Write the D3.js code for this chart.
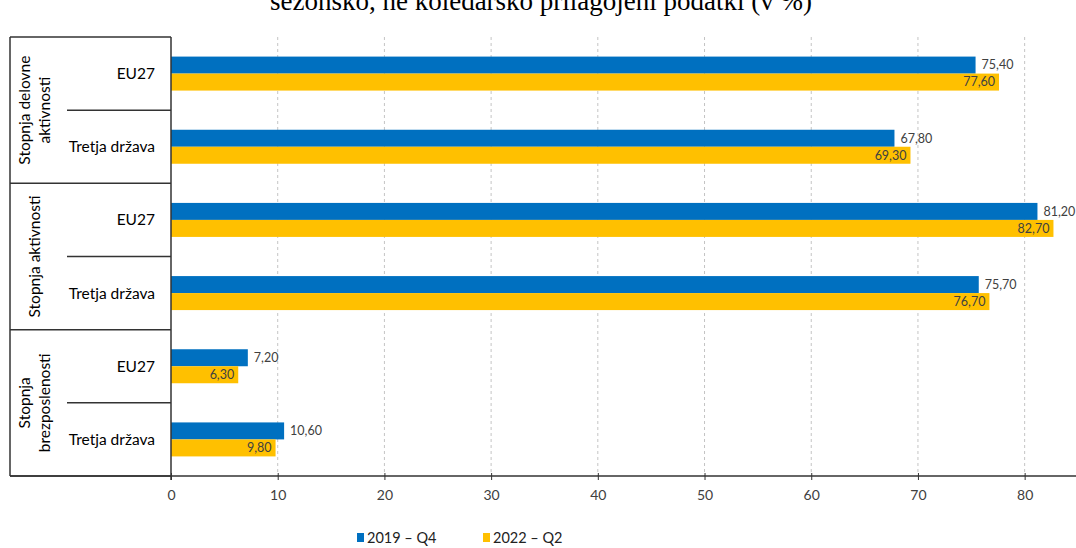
<!DOCTYPE html>
<html>
<head>
<meta charset="utf-8">
<script src="https://cdn.jsdelivr.net/npm/d3@7"></script>
<style>
  html, body { margin: 0; padding: 0; background: #fff; }
  svg { display: block; }
</style>
</head>
<body>
<svg id="chart" width="1076" height="548"></svg>
<script>
// Indicator groups (rotated labels on the left) and the rows inside each
const groups = [
  ["Stopnja delovne", "aktivnosti"],
  ["Stopnja aktivnosti"],
  ["Stopnja", "brezposlenosti"]
];
const rowLabels = ["EU27", "Tretja država"];
const rowIds = ["g1-eu", "g1-tr", "g2-eu", "g2-tr", "g3-eu", "g3-tr"];

// Values per row, one array per period
const series2019Q4 = [75.4, 67.8, 81.2, 75.7, 7.2, 10.6];
const series2022Q2 = [77.6, 69.3, 82.7, 76.7, 6.3, 9.8];
const seriesNames = ["2019 – Q4", "2022 – Q2"];
const xTicks = [0, 10, 20, 30, 40, 50, 60, 70, 80];
const title = "sezonsko, ne koledarsko prilagojeni podatki (v %)";

const colors = ["#0070C0", "#FFC000"];
const fontSans = "Lato, 'Open Sans', sans-serif";
const fmt = v => v.toFixed(2).replace(".", ",");

const svg = d3.select("#chart");
const plotTop = 37, plotBottom = 476, leftEdge = 10, axisX = 171;

const x = d3.scaleLinear().domain([0, 85]).range([axisX, 1078]);
const y = d3.scaleBand().domain(rowIds).range([plotTop, plotBottom]).paddingInner(0).paddingOuter(0);
const barH = 17;

// Title (its upper part runs past the top edge of the page)
svg.append("text")
  .attr("x", 541).attr("y", 10)
  .attr("text-anchor", "middle")
  .attr("font-family", "'Liberation Serif', 'Times New Roman', serif")
  .attr("font-size", 27)
  .attr("fill", "#000")
  .text(title);

// Vertical dashed gridlines
svg.append("g").selectAll("line")
  .data(xTicks.filter(d => d > 0))
  .join("line")
  .attr("x1", d => x(d)).attr("x2", d => x(d))
  .attr("y1", plotTop).attr("y2", plotBottom)
  .attr("stroke", "#c4c4c4")
  .attr("stroke-width", 1)
  .attr("stroke-dasharray", "3,3");

// Bars
const rows = rowIds.map((id, i) => ({ id, v: [series2019Q4[i], series2022Q2[i]] }));
const rowG = svg.append("g").selectAll("g")
  .data(rows).join("g")
  .attr("transform", d => `translate(0,${y(d.id) + y.bandwidth() / 2})`);

rowG.append("rect")
  .attr("x", x(0)).attr("y", -barH)
  .attr("width", d => x(d.v[0]) - x(0)).attr("height", barH)
  .attr("fill", colors[0]);
rowG.append("rect")
  .attr("x", x(0)).attr("y", 0)
  .attr("width", d => x(d.v[1]) - x(0)).attr("height", barH)
  .attr("fill", colors[1]);

// Value labels: first series outside the bar end, second inside
rowG.append("text")
  .attr("x", d => x(d.v[0]) + 6).attr("y", -barH / 2)
  .attr("dy", "0.35em")
  .attr("font-family", fontSans).attr("font-size", 12.5)
  .attr("fill", "#404040")
  .text(d => fmt(d.v[0]));
rowG.append("text")
  .attr("x", d => x(d.v[1]) - 4).attr("y", barH / 2)
  .attr("dy", "0.35em")
  .attr("text-anchor", "end")
  .attr("font-family", fontSans).attr("font-size", 12.5)
  .attr("fill", "#404040")
  .text(d => fmt(d.v[1]));

// Bottom axis
const axis = d3.axisBottom(x).tickValues(xTicks).tickSize(4).tickPadding(10).tickFormat(d3.format("d"));
const axG = svg.append("g").attr("transform", `translate(0,${plotBottom})`).call(axis);
axG.select(".domain").remove();
axG.selectAll(".tick line").attr("stroke", "#333").attr("y1", -3);
axG.selectAll(".tick text")
  .attr("font-family", fontSans).attr("font-size", 14).attr("fill", "#404040");
svg.append("line")
  .attr("x1", leftEdge).attr("x2", 1076)
  .attr("y1", plotBottom).attr("y2", plotBottom)
  .attr("stroke", "#333").attr("stroke-width", 1.5);

// Category frame on the left
const frame = svg.append("g").attr("stroke", "#333").attr("stroke-width", 1.5);
frame.append("line").attr("x1", axisX).attr("x2", axisX).attr("y1", plotTop).attr("y2", plotBottom + 4);
frame.append("line").attr("x1", leftEdge).attr("x2", leftEdge).attr("y1", plotTop).attr("y2", plotBottom);
const groupBounds = groups.map((g, i) => ({ g, top: y(rowIds[i * 2]), mid: y(rowIds[i * 2 + 1]), bottom: y(rowIds[i * 2 + 1]) + y.bandwidth() }));
frame.selectAll(".gsep")
  .data([plotTop].concat(groupBounds.map(d => d.bottom)))
  .join("line")
  .attr("x1", leftEdge).attr("x2", axisX)
  .attr("y1", d => d).attr("y2", d => d);
frame.selectAll(".rsep")
  .data(groupBounds)
  .join("line")
  .attr("x1", 67).attr("x2", axisX)
  .attr("y1", d => d.mid).attr("y2", d => d.mid);

// Row labels
svg.append("g").selectAll("text")
  .data(rowIds)
  .join("text")
  .attr("x", 155)
  .attr("y", d => y(d) + y.bandwidth() / 2)
  .attr("dy", "0.35em")
  .attr("text-anchor", "end")
  .attr("font-family", fontSans).attr("font-size", 15.5)
  .attr("fill", "#000")
  .text((d, i) => rowLabels[i % 2]);

// Rotated group labels
const lineGap = 20;
groupBounds.forEach(d => {
  const cy = (d.top + d.bottom) / 2;
  const n = d.g.length;
  const t = svg.append("text")
    .attr("transform", `translate(${35},${cy}) rotate(-90)`)
    .attr("text-anchor", "middle")
    .attr("font-family", fontSans).attr("font-size", 15.5)
    .attr("fill", "#000");
  d.g.forEach((line, j) => {
    t.append("tspan")
      .attr("x", 0)
      .attr("y", (j - (n - 1) / 2) * lineGap)
      .attr("dy", "0.35em")
      .text(line);
  });
});

// Legend
const legend = svg.append("g").selectAll("g")
  .data(seriesNames)
  .join("g")
  .attr("transform", (d, i) => `translate(${357 + i * 126},533)`);
legend.append("rect").attr("width", 7).attr("height", 9).attr("fill", (d, i) => colors[i]);
legend.append("text")
  .attr("x", 10).attr("y", 4.5).attr("dy", "0.35em")
  .attr("font-family", fontSans).attr("font-size", 14.5)
  .attr("fill", "#222")
  .text(d => d);
</script>
</body>
</html>
